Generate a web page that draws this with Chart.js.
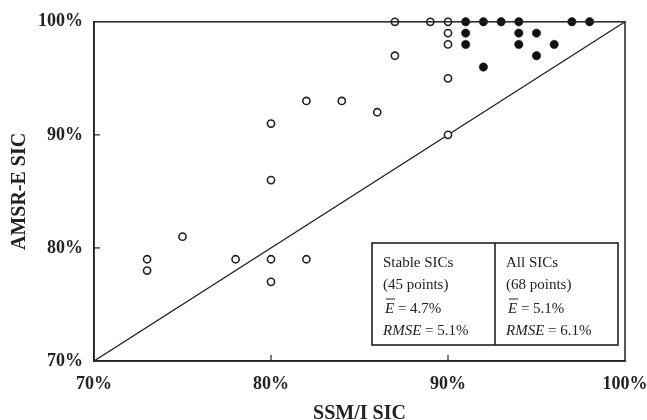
<!DOCTYPE html>
<html>
<head>
<meta charset="utf-8">
<script src="https://cdn.jsdelivr.net/npm/chart.js@4.4.1/dist/chart.umd.min.js"></script>
<style>
  html, body { margin: 0; padding: 0; background: #fff; }
  #wrap { width: 647px; height: 420px; }
</style>
</head>
<body>
<div id="wrap"><canvas id="sicChart" width="647" height="420"></canvas></div>
<script>
// SSM/I SIC (x) vs AMSR-E SIC (y), in percent
const openX = [87, 89, 90, 90, 90, 87, 90, 82, 84, 86, 80, 90, 80, 75, 73, 78, 80, 82, 73, 80];
const openY = [100, 100, 100, 99, 98, 97, 95, 93, 93, 92, 91, 90, 86, 81, 79, 79, 79, 79, 78, 77];
const stableX = [91, 92, 93, 94, 97, 98, 91, 94, 95, 91, 94, 96, 95, 92];
const stableY = [100, 100, 100, 100, 100, 100, 99, 99, 99, 98, 98, 98, 97, 96];
const lineX = [70, 100];
const lineY = [70, 100];
const tickValues = [70, 80, 90, 100];
const innerTicks = [80, 90];

const statsLeft = ['Stable SICs', '(45 points)', '4.7%', '5.1%'];
const statsRight = ['All SICs', '(68 points)', '5.1%', '6.1%'];

const serif = "'Liberation Serif', 'Times New Roman', serif";
const ink = '#222';

function pts(xs, ys) {
    return xs.map((x, i) => ({ x: x, y: ys[i] }));
}

// frame, inward ticks and the stats box
const framePlugin = {
    id: 'frame',
    afterDraw(chart) {
        const ctx = chart.ctx;
        const a = chart.chartArea;
        const xs = chart.scales.x, ys = chart.scales.y;
        ctx.save();
        ctx.strokeStyle = ink;
        ctx.lineWidth = 1.5;
        ctx.strokeRect(a.left, a.top, a.right - a.left, a.bottom - a.top);
        ctx.lineWidth = 1.2;
        innerTicks.forEach(v => {
            const px = xs.getPixelForValue(v);
            ctx.beginPath(); ctx.moveTo(px, a.bottom); ctx.lineTo(px, a.bottom - 6); ctx.stroke();
            const py = ys.getPixelForValue(v);
            ctx.beginPath(); ctx.moveTo(a.left, py); ctx.lineTo(a.left + 6, py); ctx.stroke();
        });

        // stats box
        const bx0 = 372, bx1 = 495, bx2 = 618, by0 = 243, by1 = 345;
        ctx.fillStyle = '#fff';
        ctx.fillRect(bx0, by0, bx2 - bx0, by1 - by0);
        ctx.lineWidth = 1.6;
        ctx.strokeRect(bx0, by0, bx2 - bx0, by1 - by0);
        ctx.beginPath(); ctx.moveTo(bx1, by0); ctx.lineTo(bx1, by1); ctx.stroke();

        const rows = [263, 285, 309, 331];
        function col(x, t) {
            ctx.fillStyle = ink;
            ctx.textBaseline = 'middle';
            ctx.textAlign = 'left';
            ctx.font = '15px ' + serif;
            ctx.fillText(t[0], x, rows[0]);
            ctx.fillText(t[1], x, rows[1]);
            // E-bar line
            ctx.font = 'italic 15px ' + serif;
            const ex = x + 2;
            ctx.fillText('E', ex, rows[2]);
            const ew = ctx.measureText('E').width;
            ctx.lineWidth = 1;
            ctx.beginPath(); ctx.moveTo(ex + 1, rows[2] - 10); ctx.lineTo(ex + ew + 1, rows[2] - 10); ctx.stroke();
            ctx.font = '15px ' + serif;
            ctx.fillText(' = ' + t[2], ex + ew, rows[2]);
            // RMSE line
            ctx.font = 'italic 15px ' + serif;
            ctx.fillText('RMSE', x, rows[3]);
            const rw = ctx.measureText('RMSE').width;
            ctx.font = '15px ' + serif;
            ctx.fillText(' = ' + t[3], x + rw, rows[3]);
        }
        col(383, statsLeft);
        col(506, statsRight);
        ctx.restore();
    }
};

const ctx = document.getElementById('sicChart').getContext('2d');
const chart = new Chart(ctx, {
    type: 'scatter',
    data: {
        datasets: [
            {
                type: 'line',
                data: pts(lineX, lineY),
                borderColor: ink,
                borderWidth: 1.3,
                pointRadius: 0,
                fill: false,
                order: 3,
            },
            {
                data: pts(openX, openY),
                pointRadius: 3.6,
                pointBorderWidth: 1.6,
                pointBackgroundColor: '#fff',
                pointBorderColor: ink,
                order: 1,
                clip: false,
            },
            {
                data: pts(stableX, stableY),
                pointRadius: 4.2,
                pointBorderWidth: 0.5,
                pointBackgroundColor: '#111',
                pointBorderColor: '#111',
                order: 1,
                clip: false,
            },
        ],
    },
    options: {
        responsive: false,
        animation: false,
        layout: { padding: { top: 21, right: 22, left: 0, bottom: 0 } },
        plugins: {
            legend: { display: false },
            tooltip: { enabled: false },
        },
        scales: {
            x: {
                type: 'linear',
                min: 70,
                max: 100,
                afterBuildTicks: (s) => { s.ticks = tickValues.map(v => ({ value: v })); },
                afterFit: (s) => { s.height = 59; s.paddingLeft = 0; s.paddingRight = 0; },
                grid: { display: false, drawTicks: false },
                border: { display: true, color: ink, width: 1.5 },
                ticks: {
                    padding: 13,
                    color: ink,
                    font: { family: serif, size: 18, weight: 'bold' },
                    callback: (v) => v + '%',
                    maxRotation: 0,
                },
                title: {
                    display: true,
                    text: 'SSM/I SIC',
                    color: ink,
                    font: { family: serif, size: 20, weight: 'bold', lineHeight: 1 },
                    padding: { top: 0, bottom: -4 },
                },
            },
            y: {
                type: 'linear',
                min: 70,
                max: 100,
                afterBuildTicks: (s) => { s.ticks = tickValues.map(v => ({ value: v })); },
                afterFit: (s) => { s.width = 94; },
                grid: { display: false, drawTicks: false },
                border: { display: true, color: ink, width: 1.5 },
                ticks: {
                    padding: 11,
                    color: ink,
                    font: { family: serif, size: 18, weight: 'bold' },
                    callback: (v) => v + '%',
                },
                title: {
                    display: true,
                    text: 'AMSR-E SIC',
                    color: ink,
                    font: { family: serif, size: 20, weight: 'bold', lineHeight: 1.2 },
                    padding: { top: 8, bottom: 0 },
                },
            },
        },
    },
    plugins: [framePlugin],
});
</script>
</body>
</html>
